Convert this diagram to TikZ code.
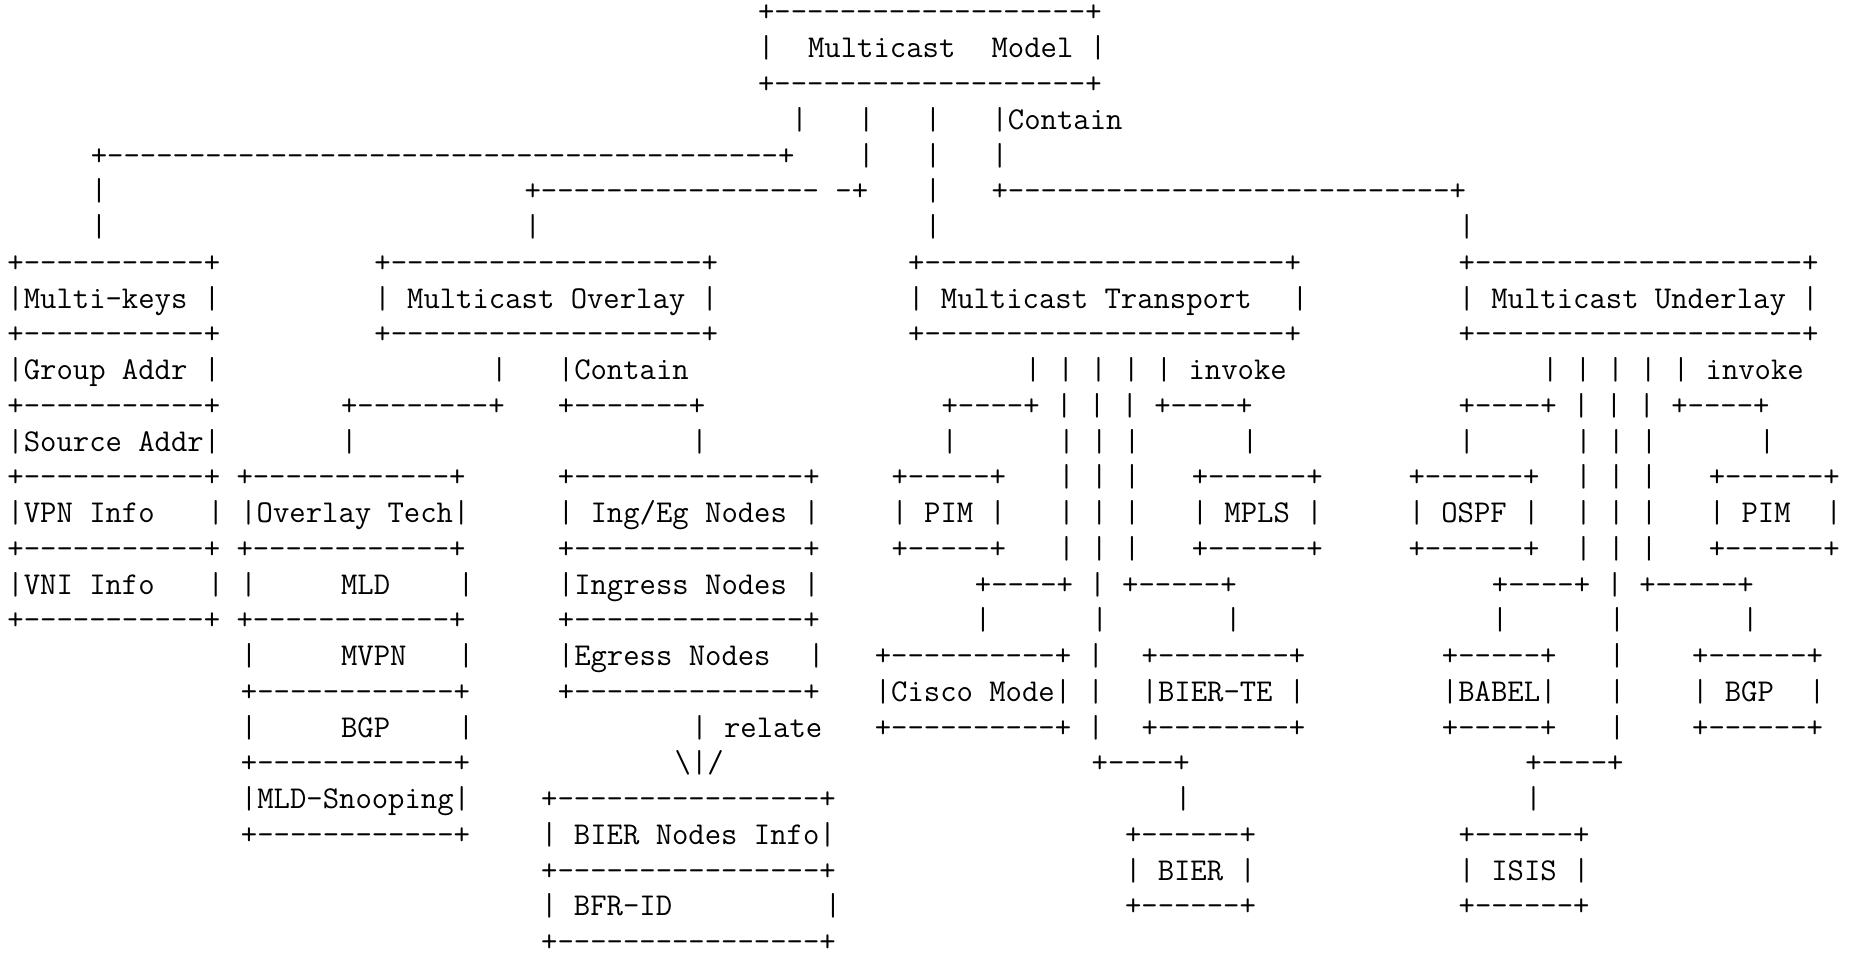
\documentclass[tikz,border=0pt]{standalone}
\ExplSyntaxOn
\cs_new:Npn \asciidash #1 { \prg_replicate:nn {#1} {-} }
\cs_new:Npn \asciihb #1 { + \prg_replicate:nn {#1} {-} + }
\ExplSyntaxOff
\newcommand\asciifont{\ttfamily\fontsize{31.77pt}{35.75pt}\selectfont}
\tikzset{asc/.style={anchor=base west, inner sep=0pt, outer sep=0pt, text depth=0pt, font=\asciifont, text=black}}
\newcommand\seg[4]{\node[asc] (#1) at (#2,#3) {#4};}
\begin{document}
\begin{tikzpicture}[x=16.68pt, y=-35.75pt]
\fill[white] (-0.44724,-0.61538) rectangle (110.40408,26.18182);
\useasboundingbox (-0.44724,-0.61538) rectangle (110.40408,26.18182);
% top
\seg{r0a}{45}{0}{\asciihb{19}}
\seg{r1a}{45}{1}{|}
\seg{r1b}{48}{1}{Multicast}
\seg{r1c}{59}{1}{Model |}
\seg{r2a}{45}{2}{\asciihb{19}}
\seg{r3a}{47}{3}{|}
\seg{r3b}{51}{3}{|}
\seg{r3c}{55}{3}{|}
\seg{r3d}{59}{3}{|Contain}
\seg{r4a}{5}{4}{\asciihb{41}}
\seg{r4b}{51}{4}{|}
\seg{r4c}{55}{4}{|}
\seg{r4d}{59}{4}{|}
\seg{r5a}{5}{5}{|}
\seg{r5b}{31}{5}{+\asciidash{17} -+}
\seg{r5c}{55}{5}{|}
\seg{r5d}{59}{5}{\asciihb{27}}
\seg{r6a}{5}{6}{|}
\seg{r6b}{31}{6}{|}
\seg{r6c}{55}{6}{|}
\seg{r6d}{87}{6}{|}
% main boxes
\seg{r7a}{0}{7}{\asciihb{11}}
\seg{r7b}{22}{7}{\asciihb{19}}
\seg{r7c}{54}{7}{\asciihb{22}}
\seg{r7d}{87}{7}{\asciihb{20}}
\seg{r8a}{0}{8}{|Multi-keys |}
\seg{r8b}{22}{8}{| Multicast Overlay |}
\seg{r8c}{54}{8}{| Multicast Transport}
\seg{r8d}{77}{8}{|}
\seg{r8e}{87}{8}{| Multicast Underlay |}
\seg{r9a}{0}{9}{\asciihb{11}}
\seg{r9b}{22}{9}{\asciihb{19}}
\seg{r9c}{54}{9}{\asciihb{22}}
\seg{r9d}{87}{9}{\asciihb{20}}
% row 10-12
\seg{r10a}{0}{10}{|Group Addr |}
\seg{r10b}{29}{10}{|}
\seg{r10c}{33}{10}{|Contain}
\seg{r10d}{61}{10}{| | | | | invoke}
\seg{r10e}{92}{10}{| | | | | invoke}
\seg{r11a}{0}{11}{\asciihb{11}}
\seg{r11b}{20}{11}{\asciihb{8}}
\seg{r11c}{33}{11}{\asciihb{7}}
\seg{r11d}{56}{11}{\asciihb{4} | | | \asciihb{4}}
\seg{r11e}{87}{11}{\asciihb{4} | | | \asciihb{4}}
\seg{r12a}{0}{12}{|Source Addr|}
\seg{r12b}{20}{12}{|}
\seg{r12c}{41}{12}{|}
\seg{r12d}{56}{12}{|}
\seg{r12e}{63}{12}{| | |}
\seg{r12f}{74}{12}{|}
\seg{r12g}{87}{12}{|}
\seg{r12h}{94}{12}{| | |}
\seg{r12i}{105}{12}{|}
% row 13-17
\seg{r13a}{0}{13}{\asciihb{11} \asciihb{12}}
\seg{r13b}{33}{13}{\asciihb{14}}
\seg{r13c}{53}{13}{\asciihb{5}}
\seg{r13d}{63}{13}{| | |}
\seg{r13e}{71}{13}{\asciihb{6}}
\seg{r13f}{84}{13}{\asciihb{6}}
\seg{r13g}{94}{13}{| | |}
\seg{r13h}{102}{13}{\asciihb{6}}
\seg{r14a}{0}{14}{|VPN Info}
\seg{r14b}{12}{14}{| |Overlay Tech|}
\seg{r14c}{33}{14}{| Ing/Eg Nodes |}
\seg{r14d}{53}{14}{| PIM |}
\seg{r14e}{63}{14}{| | |}
\seg{r14f}{71}{14}{| MPLS |}
\seg{r14g}{84}{14}{| OSPF |}
\seg{r14h}{94}{14}{| | |}
\seg{r14i}{102}{14}{| PIM}
\seg{r14j}{109}{14}{|}
\seg{r15a}{0}{15}{\asciihb{11} \asciihb{12}}
\seg{r15b}{33}{15}{\asciihb{14}}
\seg{r15c}{53}{15}{\asciihb{5}}
\seg{r15d}{63}{15}{| | |}
\seg{r15e}{71}{15}{\asciihb{6}}
\seg{r15f}{84}{15}{\asciihb{6}}
\seg{r15g}{94}{15}{| | |}
\seg{r15h}{102}{15}{\asciihb{6}}
\seg{r16a}{0}{16}{|VNI Info}
\seg{r16b}{12}{16}{| |}
\seg{r16c}{20}{16}{MLD}
\seg{r16d}{27}{16}{|}
\seg{r16e}{33}{16}{|Ingress Nodes |}
\seg{r16f}{58}{16}{\asciihb{4} | \asciihb{5}}
\seg{r16g}{89}{16}{\asciihb{4} | \asciihb{5}}
\seg{r17a}{0}{17}{\asciihb{11} \asciihb{12}}
\seg{r17b}{33}{17}{\asciihb{14}}
\seg{r17c}{58}{17}{|}
\seg{r17d}{65}{17}{|}
\seg{r17e}{73}{17}{|}
\seg{r17f}{89}{17}{|}
\seg{r17g}{96}{17}{|}
\seg{r17h}{104}{17}{|}
% row 18-22
\seg{r18a}{14}{18}{|}
\seg{r18b}{20}{18}{MVPN}
\seg{r18c}{27}{18}{|}
\seg{r18d}{33}{18}{|Egress Nodes}
\seg{r18e}{48}{18}{|}
\seg{r18f}{52}{18}{\asciihb{10} |}
\seg{r18g}{68}{18}{\asciihb{8}}
\seg{r18h}{86}{18}{\asciihb{5}}
\seg{r18i}{96}{18}{|}
\seg{r18j}{101}{18}{\asciihb{6}}
\seg{r19a}{14}{19}{\asciihb{12}}
\seg{r19b}{33}{19}{\asciihb{14}}
\seg{r19c}{52}{19}{|Cisco Mode| |}
\seg{r19d}{68}{19}{|BIER-TE |}
\seg{r19e}{86}{19}{|BABEL|}
\seg{r19f}{96}{19}{|}
\seg{r19g}{101}{19}{| BGP}
\seg{r19h}{108}{19}{|}
\seg{r20a}{14}{20}{|}
\seg{r20b}{20}{20}{BGP}
\seg{r20c}{27}{20}{|}
\seg{r20d}{41}{20}{| relate}
\seg{r20e}{52}{20}{\asciihb{10} |}
\seg{r20f}{68}{20}{\asciihb{8}}
\seg{r20g}{86}{20}{\asciihb{5}}
\seg{r20h}{96}{20}{|}
\seg{r20i}{101}{20}{\asciihb{6}}
\seg{r21a}{14}{21}{\asciihb{12}}
\seg{r21b}{40}{21}{\textbackslash|/}
\seg{r21c}{65}{21}{\asciihb{4}}
\seg{r21d}{91}{21}{\asciihb{4}}
\seg{r22a}{14}{22}{|MLD-Snooping|}
\seg{r22b}{32}{22}{\asciihb{16}}
\seg{r22c}{70}{22}{|}
\seg{r22d}{91}{22}{|}
% row 23-26
\seg{r23a}{14}{23}{\asciihb{12}}
\seg{r23b}{32}{23}{| BIER Nodes Info|}
\seg{r23c}{67}{23}{\asciihb{6}}
\seg{r23d}{87}{23}{\asciihb{6}}
\seg{r24a}{32}{24}{\asciihb{16}}
\seg{r24b}{67}{24}{| BIER |}
\seg{r24c}{87}{24}{| ISIS |}
\seg{r25a}{32}{25}{| BFR-ID}
\seg{r25b}{49}{25}{|}
\seg{r25c}{67}{25}{\asciihb{6}}
\seg{r25d}{87}{25}{\asciihb{6}}
\seg{r26a}{32}{26}{\asciihb{16}}
\end{tikzpicture}
\end{document}
